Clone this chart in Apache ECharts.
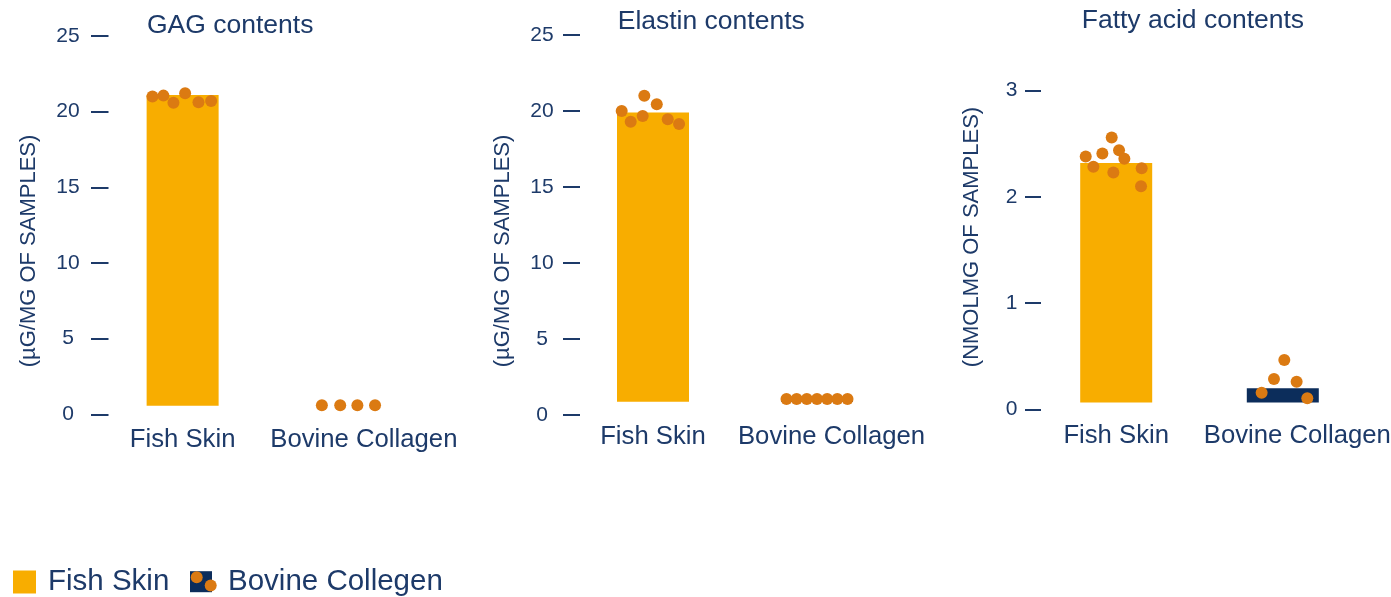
<!DOCTYPE html>
<html>
<head>
<meta charset="utf-8">
<script src="https://cdn.jsdelivr.net/npm/echarts@6/dist/echarts.min.js"></script>
<style>
  html, body { margin: 0; padding: 0; background: #ffffff; }
  #chart { width: 1391px; height: 597px; }
</style>
</head>
<body>
<div id="chart"></div>
<script>
// ---------------- DATA ----------------
const categories = ['Fish Skin', 'Bovine Collagen'];
const legendNames = ['Fish Skin', 'Bovine Collegen'];
const panelTitles = ['GAG contents', 'Elastin contents', 'Fatty acid contents'];
const axisNames = ['(µG/MG OF SAMPLES)', '(µG/MG OF SAMPLES)', '(NMOLMG OF SAMPLES)'];
const axisMax = [25, 25, 3];
const axisInterval = [5, 5, 1];

// bar heights [Fish Skin, Bovine Collagen]
const gagBars = [21.1, 0.5];
const elastinBars = [19.9, 1.0];
const fattyBars = [2.32, 0.2];

// individual sample points (values) and their horizontal jitter within the category
const gagFishValues = [21.0, 21.06, 20.59, 21.22, 20.62, 20.71];
const gagFishJitter = [-0.181, -0.115, -0.055, 0.015, 0.095, 0.171];
const gagBovineValues = [0.6, 0.6, 0.6, 0.6];
const gagBovineJitter = [-0.165, -0.055, 0.048, 0.154];

const elastinFishValues = [20.0, 19.3, 19.67, 21.0, 20.44, 19.45, 19.14];
const elastinFishJitter = [-0.191, -0.136, -0.063, -0.053, 0.023, 0.090, 0.159];
const elastinBovineValues = [1.05, 1.05, 1.05, 1.05, 1.05, 1.05, 1.05];
const elastinBovineJitter = [-0.186, -0.124, -0.062, 0, 0.062, 0.124, 0.186];

const fattyFishValues = [2.38, 2.285, 2.41, 2.56, 2.23, 2.44, 2.36, 2.27, 2.10];
const fattyFishJitter = [-0.183, -0.137, -0.083, -0.027, -0.017, 0.017, 0.049, 0.153, 0.149];
const fattyBovineValues = [0.466, 0.287, 0.262, 0.158, 0.105];
const fattyBovineJitter = [0.009, -0.053, 0.083, -0.127, 0.147];

// ---------------- STYLE / LAYOUT ----------------
const FONT = '"Liberation Sans", Arial, sans-serif';
const TEXT = '#1D3A69';
const BAR_ORANGE = '#F8AD00';
const DOT_ORANGE = '#DB7A12';
const NAVY = '#0C2D5B';

const layout = [
  { left: 99.25, width: 333.5, top: 36, bottom: 414.3, cut: 405.7, axisOffset: 8.25, labelMargin: 23, tickLen: 17.5,
    titleLeft: 147, titleTop: 12, nameX: 29, nameY: 251, nameSize: 22, xLabelMargin: 13 },
  { left: 571, width: 328, top: 35, bottom: 415, cut: 401.7, axisOffset: 8, labelMargin: 21, tickLen: 17,
    titleLeft: 617.7, titleTop: 8, nameX: 503, nameY: 251, nameSize: 22, xLabelMargin: 9 },
  { left: 1032.9, width: 333.2, top: 90.7, bottom: 409.5, cut: 402.5, axisOffset: 7.9, labelMargin: 13.5, tickLen: 16,
    titleLeft: 1081.7, titleTop: 7, nameX: 972, nameY: 237, nameSize: 22, xLabelMargin: 13 }
];

const panels = [
  { bars: gagBars, fishV: gagFishValues, fishJ: gagFishJitter, bovV: gagBovineValues, bovJ: gagBovineJitter },
  { bars: elastinBars, fishV: elastinFishValues, fishJ: elastinFishJitter, bovV: elastinBovineValues, bovJ: elastinBovineJitter },
  { bars: fattyBars, fishV: fattyFishValues, fishJ: fattyFishJitter, bovV: fattyBovineValues, bovJ: fattyBovineJitter }
];

const grid = [], xAxis = [], yAxis = [], series = [], title = [], graphic = [];

panels.forEach((p, i) => {
  const L = layout[i];
  const max = axisMax[i];
  const cutValue = (L.bottom - L.cut) / (L.bottom - L.top) * max;
  // grid A: visible axis + points
  grid.push({ left: L.left, top: L.top, width: L.width, height: L.bottom - L.top, containLabel: false, outerBoundsMode: 'none' });
  // grid B: bars (bottom cut slightly above zero as in the reference)
  grid.push({ left: L.left, top: L.top, width: L.width, height: L.cut - L.top, containLabel: false, outerBoundsMode: 'none' });

  xAxis.push({
    type: 'category', gridIndex: 2 * i, data: categories,
    axisLine: { show: false, onZero: false }, axisTick: { show: false }, splitLine: { show: false },
    axisLabel: {
      interval: 0, margin: L.xLabelMargin, color: TEXT, fontSize: 25.7, fontFamily: FONT,
      formatter: (v, idx) => idx === 1 ? '{s|' + v + '}' : v,
      rich: { s: { padding: [0, 0, 0, 29], color: TEXT, fontSize: 25.7, fontFamily: FONT } }
    }
  });
  xAxis.push({ type: 'value', gridIndex: 2 * i, min: -0.5, max: 1.5, show: false, axisLine: { onZero: false } });
  xAxis.push({ type: 'category', gridIndex: 2 * i + 1, data: categories, show: false, axisLine: { onZero: false } });

  yAxis.push({
    type: 'value', gridIndex: 2 * i, min: 0, max: max, interval: axisInterval[i], offset: L.axisOffset, position: 'left',
    axisLine: { show: false, onZero: false },
    axisTick: { show: true, inside: true, length: L.tickLen, lineStyle: { color: TEXT, width: 2 } },
    splitLine: { show: false },
    axisLabel: { align: 'center', margin: L.labelMargin, color: TEXT, fontSize: 21, fontFamily: FONT }
  });
  yAxis.push({ type: 'value', gridIndex: 2 * i + 1, min: cutValue, max: max, show: false, axisLine: { onZero: false } });

  series.push({
    type: 'bar', name: legendNames[0], xAxisIndex: 3 * i + 2, yAxisIndex: 2 * i + 1, stack: 'p' + i,
    barWidth: 72, clip: true, itemStyle: { color: BAR_ORANGE }, data: [p.bars[0], '-'], silent: true
  });
  series.push({
    type: 'bar', name: legendNames[1], xAxisIndex: 3 * i + 2, yAxisIndex: 2 * i + 1, stack: 'p' + i,
    barWidth: 72, clip: true, itemStyle: { color: NAVY }, data: ['-', p.bars[1]], silent: true
  });
  const pts = p.fishV.map((v, k) => [0 + p.fishJ[k], v]).concat(p.bovV.map((v, k) => [1 + p.bovJ[k], v]));
  series.push({
    type: 'scatter', name: panelTitles[i] + ' samples', xAxisIndex: 3 * i + 1, yAxisIndex: 2 * i,
    symbolSize: 12, clip: false, z: 5, itemStyle: { color: DOT_ORANGE, opacity: 1 }, data: pts, silent: true
  });

  title.push({
    text: panelTitles[i], left: L.titleLeft, top: L.titleTop, padding: 0,
    textStyle: { color: TEXT, fontSize: 26.5, fontWeight: 'normal', fontFamily: FONT }
  });
  graphic.push({
    type: 'text', x: L.nameX, y: L.nameY, rotation: Math.PI / 2,
    style: { text: axisNames[i], fill: TEXT, font: L.nameSize + 'px ' + FONT, align: 'center', verticalAlign: 'middle' }
  });
});

const bovIcon = 'image://data:image/svg+xml;charset=utf-8,' + encodeURIComponent(
  '<svg xmlns="http://www.w3.org/2000/svg" width="27" height="23" viewBox="0 0 27 23">' +
  '<rect x="0" y="0.7" width="22" height="21" fill="' + NAVY + '"/>' +
  '<circle cx="6.7" cy="6.7" r="6" fill="' + DOT_ORANGE + '"/>' +
  '<circle cx="20.7" cy="15" r="6" fill="' + DOT_ORANGE + '"/>' +
  '</svg>');

const legendText = { color: TEXT, fontSize: 29.5, fontFamily: FONT, padding: [0, 0, 0, 7] };

const option = {
  animation: false,
  backgroundColor: '#ffffff',
  title: title,
  grid: grid,
  xAxis: xAxis,
  yAxis: yAxis,
  series: series,
  graphic: graphic,
  legend: [
    { left: 13, top: 567, padding: 0, itemWidth: 23, itemHeight: 23, selectedMode: false, data: [{ name: legendNames[0], icon: 'rect' }], textStyle: legendText },
    { left: 190, top: 567, padding: 0, itemWidth: 27, itemHeight: 23, selectedMode: false, data: [{ name: legendNames[1], icon: bovIcon }], textStyle: Object.assign({}, legendText, { padding: [0, 0, 0, 6] }) }
  ]
};

const chart = echarts.init(document.getElementById('chart'), null, { renderer: 'canvas' });
chart.setOption(option);
</script>
</body>
</html>
